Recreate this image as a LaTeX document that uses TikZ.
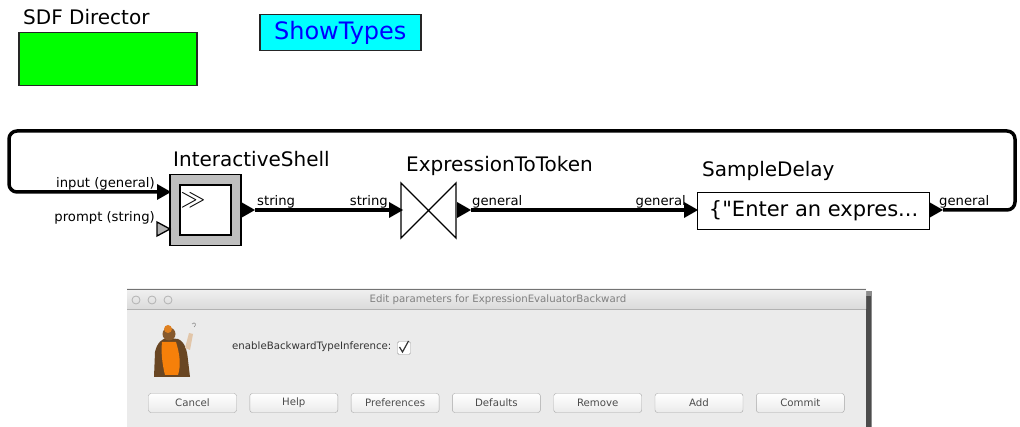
\documentclass[tikz,border=0pt]{standalone}
\usepackage{fontspec}
\setmainfont{DejaVu Sans}[Ligatures=TeXOff]
\usetikzlibrary{positioning}

\definecolor{attrcyan}{RGB}{0,255,255}
\definecolor{attrblue}{RGB}{0,0,255}
\definecolor{dirgreen}{RGB}{0,255,0}

\newcommand\actorfont{\fontsize{20}{22}\selectfont}
\newcommand\portfont{\fontsize{13.2}{15}\selectfont}
\newcommand\dialogfont{\fontsize{10.2}{12}\selectfont}

\tikzset{
  wire/.style={line width=3.5pt, line join=round},
  actortitle/.style={anchor=base west, font=\actorfont, inner sep=0pt},
  portlabel/.style={font=\portfont, inner sep=0pt},
  inport/.pic={\fill (0,-8) -- (14,0) -- (0,8) -- cycle;},
  dlgbutton/.style={draw=black!35, rounded corners=2.5pt, top color=white, bottom color=black!8,
    minimum width=88, minimum height=19, font=\dialogfont, text=black!70, inner sep=0pt},
}

\begin{document}
\begin{tikzpicture}[x=1pt,y=-1pt]
  \useasboundingbox (0,0) rectangle (1020,427);

  % director and type display attribute
  \node[anchor=base west, font=\actorfont, inner sep=0pt] (sdflabel) at (23,25) {SDF Director};
  \node[draw=black!85, line width=1.5pt, fill=dirgreen, anchor=north west,
        minimum width=178, minimum height=53] (sdf) at (18,32) {};
  \node[draw=black!85, line width=1.5pt, fill=attrcyan, text=attrblue, anchor=north west,
        minimum width=161, minimum height=36, font=\fontsize{24}{26}\selectfont] (showtypes) at (259,14) {ShowTypes};

  % InteractiveShell
  \node[draw=black, line width=1.2pt, fill=black!25, minimum width=71, minimum height=71] (shell) at (205.5,210) {};
  \node[draw=black, line width=1.2pt, fill=white, minimum width=51, minimum height=50] (shellicon) at (205.5,210) {};
  \node[font=\fontsize{24}{24}\selectfont, inner sep=0pt] (shellglyph) at (193,200) {$\gg$};
  \node[actortitle] (shelltitle) at (173,167) {InteractiveShell};
  \pic at (157,192) {inport};
  \coordinate (shellin) at (157,192);
  \filldraw[fill=black!30, draw=black, line width=1.3pt] (157,222) -- (170,229) -- (157,236) -- cycle;
  \pic at (241,210) {inport};
  \coordinate (shellout) at (255,210);
  \node[portlabel, anchor=base east] (inputlabel) at (155,188) {input (general)};
  \node[portlabel, anchor=base east] (promptlabel) at (155,222) {prompt (string)};
  \node[portlabel, anchor=base west] (shelltype) at (257,206) {string};

  % ExpressionToToken
  \draw[line width=1.3pt] (401,183) -- (401,238) -- (456,183) -- (456,238) -- cycle;
  \coordinate (e2t) at (428.5,210);
  \node[actortitle] (e2ttitle) at (406,172) {ExpressionToToken};
  \pic at (389,210) {inport};
  \coordinate (e2tin) at (389,210);
  \pic at (457,210) {inport};
  \coordinate (e2tout) at (471,210);
  \node[portlabel, anchor=base east] (e2tintype) at (388,206) {string};
  \node[portlabel, anchor=base west] (e2touttype) at (472,206) {general};

  % SampleDelay
  \node[draw=black, line width=1.2pt, fill=white, anchor=north west, minimum width=232, minimum height=37,
        font=\fontsize{21}{24}\selectfont, inner sep=0pt] (delay) at (697,192) {\{"Enter an expres...};
  \node[actortitle] (delaytitle) at (702,177) {SampleDelay};
  \pic at (684,210) {inport};
  \coordinate (delayin) at (684,210);
  \pic at (929,210) {inport};
  \coordinate (delayout) at (943,210);
  \node[portlabel, anchor=base east] (delayintype) at (686,206) {general};
  \node[portlabel, anchor=base west] (delayouttype) at (939,206) {general};

  % relations
  \draw[wire] (shellout) -- (e2tin);
  \draw[wire] (e2tout) -- (delayin);
  \draw[wire, rounded corners=8pt] (delayout) -- (1015,210) -- (1015,131) -- (9,131) -- (9,192) -- (shellin);

  % parameter dialog, with its drop shadow
  \fill[black!45] (129,291) rectangle (872,427);
  \fill[black!70] (866,296) rectangle (871,427);
  \fill[black!8] (127,289) rectangle (866,427);
  \shade[top color=black!6, bottom color=black!14] (127,289) rectangle (866,309);
  \draw[black!30, line width=0.8pt] (127,309.5) -- (866,309.5);
  \draw[black!55, line width=0.8pt] (127,289) -- (866,289);
  \foreach \cx in {136,152,168}
    \draw[black!30, line width=0.8pt] (\cx,300) circle (4);
  \node[font=\dialogfont, text=black!50] (dlgtitle) at (498,300) {Edit parameters for ExpressionEvaluatorBackward};

  % philosopher icon
  \fill[brown!55!black] (154,377) -- (155,352) .. controls (157,343) and (162,338) .. (168,338)
    -- (178,339) .. controls (185,342) and (187,350) .. (188,360) -- (190,377) -- cycle;
  \fill[orange!85!brown] (162,342) -- (176,342) .. controls (180,355) and (181,365) .. (178,375)
    -- (165,375) .. controls (162,363) and (161,352) .. (162,342) -- cycle;
  \fill[brown!70!black] (169,334) circle (6.5);
  \fill[brown!50!orange] (168,329) circle (4);
  \fill[brown!45!white] (185,348) -- (189,333) -- (193,334) -- (190,350) -- cycle;
  \draw[black!45, line width=0.6pt] (192,324) .. controls (195,321) and (197,325) .. (194,327);

  % parameter entry
  \node[font=\dialogfont, text=black!80, anchor=west, inner sep=0pt] (paramname) at (232,347) {enableBackwardTypeInference:};
  \node[draw=black!40, fill=white, rounded corners=1.5pt, minimum size=13, inner sep=0pt] (paramcheck) at (404,348) {};
  \draw[black!80, line width=1.2pt] (399.5,347) -- (402.5,352) -- (408.5,341);

  % dialog buttons
  \foreach \bname [count=\i from 0] in {Cancel,Help,Preferences,Defaults,Remove,Add,Commit}
    \node[dlgbutton] (btn\i) at (192.5+101.3*\i,403) {\bname};
\end{tikzpicture}
\end{document}
